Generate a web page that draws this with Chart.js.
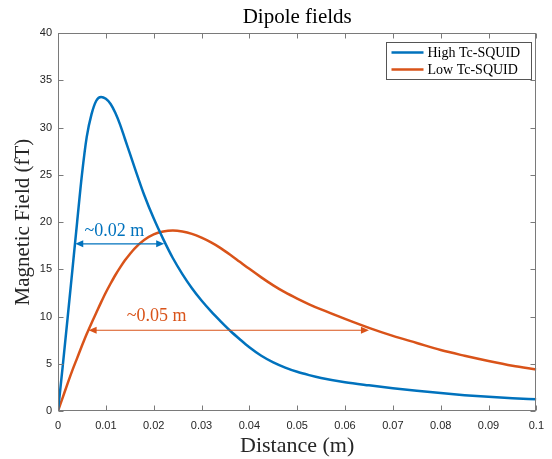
<!DOCTYPE html>
<html>
<head>
<meta charset="utf-8">
<script src="https://cdn.jsdelivr.net/npm/chart.js@4"></script>
<style>
  body { margin: 0; background: #fff; }
  canvas { display: block; }
</style>
</head>
<body>
<canvas id="chart" width="552" height="459"></canvas>
<script>
// distance from the source (m)
const distance = [0, 0.001, 0.002, 0.003, 0.004, 0.005, 0.006, 0.007, 0.008, 0.009,
  0.010, 0.011, 0.012, 0.013, 0.014, 0.015, 0.016, 0.018, 0.020, 0.022, 0.024, 0.026, 0.028,
  0.030, 0.032, 0.034, 0.036, 0.038, 0.040, 0.0425, 0.045, 0.0475, 0.050, 0.0525, 0.055,
  0.060, 0.065, 0.070, 0.075, 0.080, 0.085, 0.090, 0.095, 0.100];

// magnetic field (fT)
const highTc = [0, 4.8, 9.8, 14.9, 20.0, 25.0, 29.0, 31.4, 32.85, 33.25,
  33.05, 32.5, 31.55, 30.3, 28.8, 27.3, 25.8, 22.9, 20.4, 18.2, 16.2, 14.5, 13.0,
  11.7, 10.55, 9.5, 8.5, 7.6, 6.75, 5.85, 5.15, 4.6, 4.15, 3.8, 3.5,
  3.05, 2.72, 2.42, 2.15, 1.9, 1.68, 1.5, 1.36, 1.24];
const lowTc = [0, 1.45, 2.9, 4.3, 5.6, 6.9, 8.15, 9.3, 10.4, 11.5,
  12.55, 13.5, 14.4, 15.2, 15.95, 16.6, 17.2, 18.1, 18.7, 19.0, 19.1, 19.0, 18.75,
  18.35, 17.85, 17.25, 16.55, 15.8, 15.05, 14.15, 13.3, 12.55, 11.9, 11.3, 10.75,
  9.75, 8.8, 7.95, 7.2, 6.45, 5.85, 5.3, 4.8, 4.4];

const seriesLabels = ['High Tc-SQUID', 'Low Tc-SQUID'];
const seriesColors = ['#0072BD', '#D95319'];

// width markers: [xStart, xEnd, y], label text and label anchor [x, y]
const markerSpans = [[0.0036, 0.0222, 17.7], [0.0064, 0.0650, 8.55]];
const markerTexts = ['~0.02 m', '~0.05 m'];
const markerTextAt = [[0.0118, 19.0], [0.0206, 10.0]];

const SERIF = '"Liberation Serif", "Times New Roman", serif';
const SANS = '"Liberation Sans", Arial, sans-serif';
const AXIS = '#7a7a7a';

function toPoints(ys) {
  return distance.map((x, i) => ({ x, y: ys[i] }));
}

function arrowHead(ctx, x, y, dir) {
  ctx.beginPath();
  ctx.moveTo(x, y);
  ctx.lineTo(x - dir * 8, y - 3.5);
  ctx.lineTo(x - dir * 8, y + 3.5);
  ctx.closePath();
  ctx.fill();
}

const framePlugin = {
  id: 'frame',
  afterDatasetsDraw(chart) {
    const { ctx, chartArea: a, scales: { x, y } } = chart;
    ctx.save();

    // width markers
    markerSpans.forEach(([x0, x1, yv], i) => {
      const px0 = x.getPixelForValue(x0);
      const px1 = x.getPixelForValue(x1);
      const py = y.getPixelForValue(yv);
      ctx.strokeStyle = seriesColors[i];
      ctx.fillStyle = seriesColors[i];
      ctx.lineWidth = 1.2;
      ctx.beginPath();
      ctx.moveTo(px0 + 4, py);
      ctx.lineTo(px1 - 4, py);
      ctx.stroke();
      arrowHead(ctx, px0, py, -1);
      arrowHead(ctx, px1, py, 1);
      ctx.font = '18px ' + SERIF;
      ctx.textAlign = 'center';
      ctx.textBaseline = 'middle';
      ctx.fillText(markerTexts[i], x.getPixelForValue(markerTextAt[i][0]), y.getPixelForValue(markerTextAt[i][1]));
    });

    // box and inward ticks
    ctx.strokeStyle = AXIS;
    ctx.lineWidth = 1;
    const L = Math.round(a.left) + 0.5, R = Math.round(a.right) - 0.5;
    const T = Math.round(a.top) + 0.5, B = Math.round(a.bottom) - 0.5;
    ctx.strokeRect(L, T, R - L, B - T);
    ctx.beginPath();
    x.ticks.forEach(t => {
      const px = Math.round(x.getPixelForValue(t.value)) + 0.5;
      ctx.moveTo(px, B); ctx.lineTo(px, B - 5);
      ctx.moveTo(px, T); ctx.lineTo(px, T + 5);
    });
    y.ticks.forEach(t => {
      const py = Math.round(y.getPixelForValue(t.value)) + 0.5;
      ctx.moveTo(L, py); ctx.lineTo(L + 5, py);
      ctx.moveTo(R, py); ctx.lineTo(R - 5, py);
    });
    ctx.stroke();

    // legend
    const bw = 145, bh = 37;
    const bx = Math.round(a.right) - 5 - bw + 0.5, by = Math.round(a.top) + 9.5;
    ctx.fillStyle = '#fff';
    ctx.fillRect(bx, by, bw, bh);
    ctx.strokeStyle = '#555';
    ctx.strokeRect(bx, by, bw, bh);
    ctx.font = '14px ' + SERIF;
    ctx.textAlign = 'left';
    ctx.textBaseline = 'middle';
    seriesLabels.forEach((lab, i) => {
      const ly = by + 10 + i * 17;
      ctx.strokeStyle = seriesColors[i];
      ctx.lineWidth = 2.5;
      ctx.beginPath();
      ctx.moveTo(bx + 5, ly);
      ctx.lineTo(bx + 37, ly);
      ctx.stroke();
      ctx.fillStyle = '#000';
      ctx.fillText(lab, bx + 41, ly + 1);
    });
    ctx.restore();
  }
};

const ctx = document.getElementById('chart').getContext('2d');
new Chart(ctx, {
  type: 'line',
  data: {
    datasets: [highTc, lowTc].map((ys, i) => ({
      label: seriesLabels[i],
      data: toPoints(ys),
      borderColor: seriesColors[i],
      borderWidth: 2.5,
      pointRadius: 0,
      fill: false,
      cubicInterpolationMode: 'monotone',
    })),
  },
  options: {
    responsive: false,
    animation: false,
    layout: { padding: { left: 0, right: 15, top: 0, bottom: 0 } },
    plugins: {
      legend: { display: false },
      tooltip: { enabled: false },
      title: {
        display: true,
        fullSize: false,
        text: 'Dipole fields',
        color: '#000',
        font: { family: SERIF, size: 21, weight: 'normal' },
        padding: { top: 5, bottom: 3 },
      },
    },
    scales: {
      x: {
        type: 'linear',
        min: 0,
        max: 0.1,
        grid: { display: false, drawTicks: false },
        border: { display: false },
        ticks: {
          stepSize: 0.01,
          padding: 8,
          autoSkip: false,
          maxRotation: 0,
          color: '#262626',
          font: { family: SANS, size: 11 },
          callback: v => String(+v.toFixed(2)),
        },
        title: {
          display: true,
          text: 'Distance (m)',
          color: '#262626',
          font: { family: SERIF, size: 22 },
          padding: { top: 10, bottom: 0 },
        },
        afterFit(s) { s.height = 48; },
      },
      y: {
        min: 0,
        max: 40,
        grid: { display: false, drawTicks: false },
        border: { display: false },
        ticks: {
          stepSize: 5,
          padding: 6,
          color: '#262626',
          font: { family: SANS, size: 11 },
        },
        title: {
          display: true,
          text: 'Magnetic Field (fT)',
          color: '#262626',
          font: { family: SERIF, size: 21 },
          padding: { top: 11, bottom: 0 },
        },
        afterFit(s) { s.width = 58; },
      },
    },
  },
  plugins: [framePlugin],
});
</script>
</body>
</html>
